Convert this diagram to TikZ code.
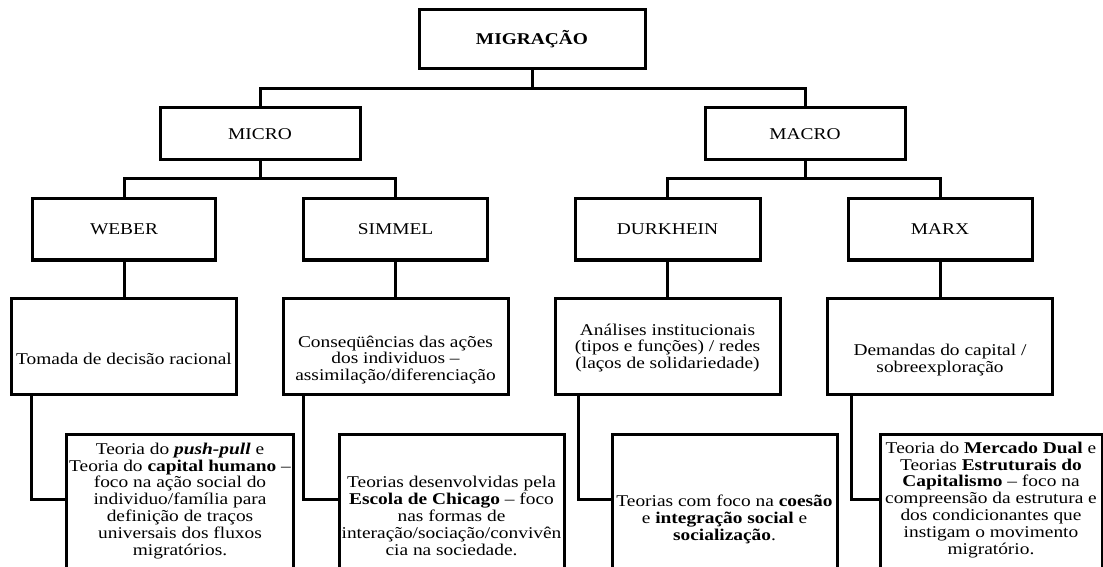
\documentclass[tikz,border=0pt]{standalone}
\usepackage{fontspec}
\setmainfont{Liberation Serif}[FakeStretch=1.18]
\begin{document}
\begin{tikzpicture}[x=1bp,y=-1bp,
  box/.style={draw, line width=3bp, inner sep=0pt, align=center, font=\fontsize{16.5}{18}\selectfont},
  txt/.style={align=center, inner sep=0pt, font=\fontsize{16.5}{17}\selectfont},
  conn/.style={line width=3bp}]
\useasboundingbox (0,0) rectangle (1103,567);
\clip (0,0) rectangle (1103,567);
\fill[white] (0,0) rectangle (1103,567);
% level 1
\node[box, minimum width=226bp, minimum height=59bp, font=\bfseries\fontsize{16.5}{18}\selectfont] (mig) at (532,39.5) {MIGRAÇÃO};
% level 2
\node[box, minimum width=200bp, minimum height=52bp] (micro) at (260,134) {MICRO};
\node[box, minimum width=200bp, minimum height=52bp] (macro) at (805,134) {MACRO};
% level 3
\node[box, minimum width=182bp, minimum height=61bp] (weber) at (124,229.5) {WEBER};
\node[box, minimum width=184bp, minimum height=61bp] (simmel) at (395.5,229.5) {SIMMEL};
\node[box, minimum width=185bp, minimum height=61bp] (durk) at (667.5,229.5) {DURKHEIN};
\node[box, minimum width=184bp, minimum height=61bp] (marx) at (940,229.5) {MARX};
% level 4 boxes
\node[box, minimum width=225bp, minimum height=95bp] (tomada) at (124,346.5) {};
\node[box, minimum width=225bp, minimum height=95bp] (conseq) at (395.5,346.5) {};
\node[box, minimum width=225bp, minimum height=95bp] (anal) at (667.5,346.5) {};
\node[box, minimum width=225bp, minimum height=95bp] (dem) at (940,346.5) {};
\node[txt] (tomadaT) at (124,359) {Tomada de decisão racional};
\node[txt] (conseqT) at (395.5,360) {Conseqüências das ações\\dos individuos –\\assimilação/diferenciação};
\node[txt] (analT) at (667.5,348) {Análises institucionais\\(tipos e funções) / redes\\(laços de solidariedade)};
\node[txt] (demT) at (940,360) {Demandas do capital /\\sobreexploração};
% level 5 boxes
\node[box, minimum width=226bp, minimum height=166bp] (push) at (180,517) {};
\node[box, minimum width=225bp, minimum height=166bp] (chic) at (451.5,517) {};
\node[box, minimum width=225bp, minimum height=166bp] (coes) at (724.5,517) {};
\node[box, minimum width=222bp, minimum height=166bp] (merc) at (991,517) {};
\node[txt] (pushT) at (180,501) {Teoria do \textbf{\textit{push-pull}} e\\Teoria do \textbf{capital humano} –\\foco na ação social do\\individuo/família para\\definição de traços\\universais dos fluxos\\migratórios.};
\node[txt] (chicT) at (451.5,516) {Teorias desenvolvidas pela\\\textbf{Escola de Chicago} – foco\\nas formas de\\interação/sociação/convivên\\cia na sociedade.};
\node[txt] (coesT) at (724.5,519) {Teorias com foco na \textbf{coesão}\\e \textbf{integração social} e\\\textbf{socialização}.};
\node[txt] (mercT) at (991,500) {Teoria do \textbf{Mercado Dual} e\\Teorias \textbf{Estruturais do}\\\textbf{Capitalismo} – foco na\\compreensão da estrutura e\\dos condicionantes que\\instigam o movimento\\migratório.};
% connectors
\coordinate (j1) at (532,89);
\draw[conn] (mig.south) -- (j1);
\draw[conn] (micro.north) |- (j1) -| (macro.north);
\coordinate (j2) at (260,179);
\coordinate (j3) at (805,179);
\draw[conn] (micro.south) -- (j2);
\draw[conn] (macro.south) -- (j3);
\draw[conn] (weber.north) |- (j2) -| (simmel.north);
\draw[conn] (durk.north) |- (j3) -| (marx.north);
\draw[conn] (weber.south) -- (tomada.north);
\draw[conn] (simmel.south) -- (conseq.north);
\draw[conn] (durk.south) -- (anal.north);
\draw[conn] (marx.south) -- (dem.north);
\draw[conn] ([xshift=22bp]tomada.south west) |- ([yshift=-67bp]push.north west);
\draw[conn] ([xshift=22bp]conseq.south west) |- ([yshift=-67bp]chic.north west);
\draw[conn] ([xshift=25bp]anal.south west) |- ([yshift=-67bp]coes.north west);
\draw[conn] ([xshift=25bp]dem.south west) |- ([yshift=-67bp]merc.north west);
\end{tikzpicture}
\end{document}
